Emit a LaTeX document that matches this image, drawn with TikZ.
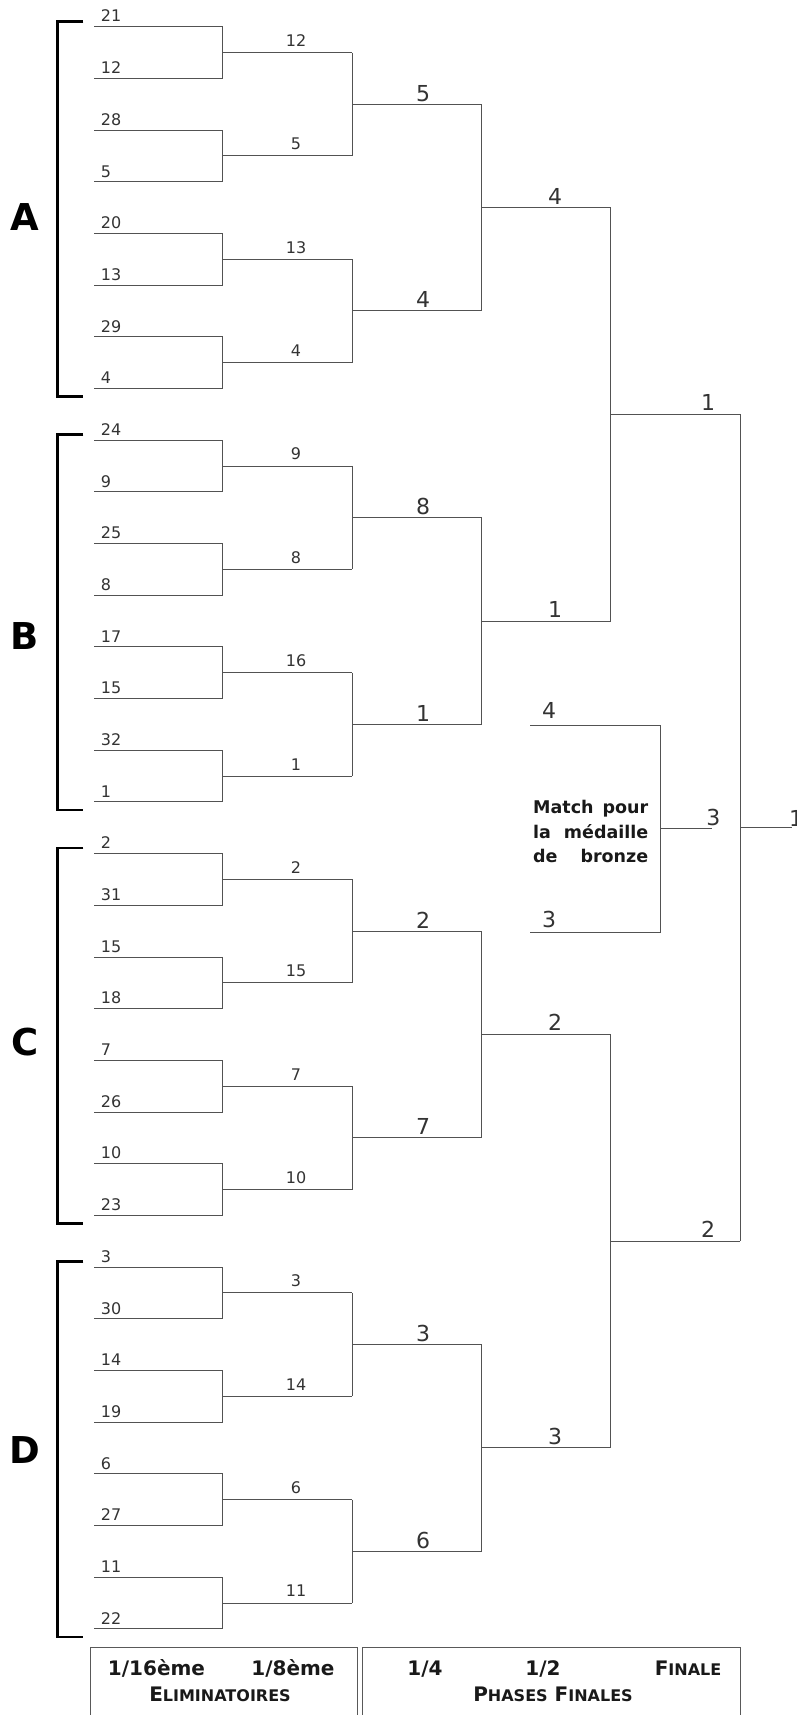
\documentclass[tikz,border=0pt]{standalone}
\usepackage{fontspec}
\setmainfont{DejaVu Sans}
\begin{document}
\begin{tikzpicture}[x=1pt,y=-1pt,
  ln/.style={draw=black!68, line width=0.9pt},
  brk/.style={draw=black, line width=2.6pt},
  fb/.style={draw=black!65, line width=0.9pt},
  sm/.style={font=\fontsize{16}{16}\selectfont, text=black!80, inner sep=0pt},
  bg/.style={font=\fontsize{22}{22}\selectfont, text=black!80, inner sep=0pt},
  grp/.style={font=\fontsize{37}{37}\selectfont\bfseries, inner sep=0pt},
  brz/.style={font=\fontsize{17.5}{17.5}\selectfont\bfseries, text=black!90, inner sep=0pt, anchor=base west},
  ft/.style={font=\fontsize{20}{20}\selectfont\bfseries, text=black!90, inner sep=0pt, anchor=base},
]
\useasboundingbox (0,0) rectangle (797,1715);

% bracket lines, rounds 1..5
\foreach \r/\xs/\xe/\n in {1/94/222.7/31, 2/222.7/352.3/15, 3/352.3/481.7/7, 4/481.7/610.7/3, 5/610.7/740/1} {
  \foreach \j in {0,...,\n} {
    \pgfmathsetmacro\yy{26.7+51.68*(\j*2^(\r-1)+(2^(\r-1)-1)/2)}
    \coordinate (s\r-\j) at (\xs,\yy);
    \coordinate (e\r-\j) at (\xe,\yy);
    \draw[ln] (s\r-\j) -- (e\r-\j);
  }
}
% vertical joins
\foreach \r/\n in {1/15, 2/7, 3/3, 4/1, 5/0} {
  \foreach \j in {0,...,\n} {
    \pgfmathtruncatemacro\a{2*\j}
    \pgfmathtruncatemacro\b{2*\j+1}
    \draw[ln] (e\r-\a) -- (e\r-\b);
  }
}
% final output
\coordinate (fm) at (740,827.8);
\coordinate (fo) at (791.7,827.8);
\draw[ln] (fm) -- (fo);
\node[bg, anchor=base west] (fl) at (789,826) {1};

% labels round 1
\foreach \s [count=\i from 0] in {21,12,28,5,20,13,29,4,24,9,25,8,17,15,32,1,2,31,15,18,7,26,10,23,3,30,14,19,6,27,11,22} {
  \node[sm, anchor=base west] (l1-\i) at ([xshift=6.7pt,yshift=4.7pt]s1-\i) {\s};
}
% labels round 2
\foreach \s [count=\i from 0] in {12,5,13,4,9,8,16,1,2,15,7,10,3,14,6,11} {
  \node[sm, anchor=base] (l2-\i) at ([xshift=73.3pt,yshift=6pt]s2-\i) {\s};
}
% labels round 3
\foreach \s [count=\i from 0] in {5,4,8,1,2,7,3,6} {
  \node[bg, anchor=base] (l3-\i) at ([xshift=70.7pt,yshift=3pt]s3-\i) {\s};
}
% labels round 4
\foreach \s [count=\i from 0] in {4,1,2,3} {
  \node[bg, anchor=base] (l4-\i) at ([xshift=73.3pt,yshift=3.5pt]s4-\i) {\s};
}
% labels round 5
\foreach \s [count=\i from 0] in {1,2} {
  \node[bg, anchor=base] (l5-\i) at ([xshift=97.3pt,yshift=4pt]s5-\i) {\s};
}

% group brackets
\foreach \g/\lab/\ly in {0/A/217.5, 1/B/636, 2/C/1042, 3/D/1450} {
  \pgfmathsetmacro\yt{26.7+51.68*8*\g-5.4}
  \pgfmathsetmacro\yb{26.7+51.68*(8*\g+7)+8.2}
  \coordinate (gt\g) at (83.3,\yt);
  \coordinate (gb\g) at (83.3,\yb);
  \draw[brk] (gt\g) -- (57.3,\yt) -- (57.3,\yb) -- (gb\g);
  \node[grp] (g\lab) at (25,\ly) {\lab};
}

% bronze match
\coordinate (bt1) at (530,725.3);
\coordinate (bt2) at (660,725.3);
\coordinate (bb1) at (530,932.3);
\coordinate (bb2) at (660,932.3);
\coordinate (bm) at (660,828.8);
\coordinate (bo) at (711.5,828.8);
\draw[ln] (bt1) -- (bt2) -- (bb2) -- (bb1);
\draw[ln] (bm) -- (bo);
\node[bg, anchor=base] (bl4) at (549,718) {4};
\node[bg, anchor=base] (bl3) at (549,927.5) {3};
\node[bg, anchor=base] (blo) at (713.3,825) {3};
\node[brz] (bz1) at (533,813.3) {\makebox[115pt]{Match\hfill pour}};
\node[brz] (bz2) at (533,838.3) {\makebox[115pt]{la\hfill médaille}};
\node[brz] (bz3) at (533,862.7) {\makebox[115pt]{de\hfill bronze}};

% footer
\draw[fb] (90.7,1720) -- (90.7,1647.3) -- (357.7,1647.3) -- (357.7,1720);
\draw[fb] (362.7,1720) -- (362.7,1647.3) -- (740,1647.3) -- (740,1720);
\node[ft] (f16) at (156.5,1675) {1/16ème};
\node[ft] (f8) at (293,1675) {1/8ème};
\node[ft] (felim) at (220,1701.7) {E{\fontsize{16}{16}\selectfont LIMINATOIRES}};
\node[ft] (f4) at (425,1675) {1/4};
\node[ft] (f2) at (543,1675) {1/2};
\node[ft] (ffin) at (688,1675) {F{\fontsize{16}{16}\selectfont INALE}};
\node[ft] (fph) at (553,1701.7) {P{\fontsize{16}{16}\selectfont HASES} F{\fontsize{16}{16}\selectfont INALES}};
\end{tikzpicture}
\end{document}
